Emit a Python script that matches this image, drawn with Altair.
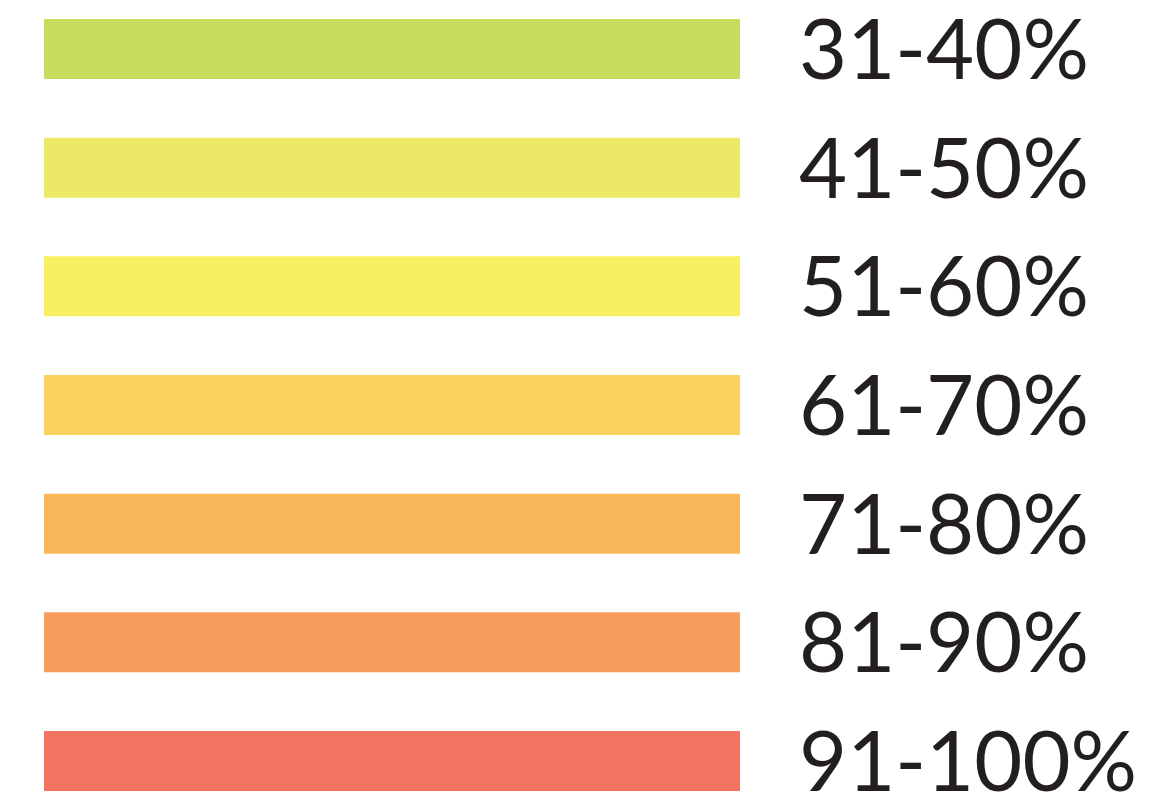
import altair as alt
import pandas as pd

labels = ["31-40%", "41-50%", "51-60%", "61-70%", "71-80%", "81-90%", "91-100%"]
colors = ["#C8DC5F", "#ECE966", "#F7F063", "#FAD260", "#F9B75A", "#F89C5E", "#F2735F"]
swatch = [100, 100, 100, 100, 100, 100, 100]

df = pd.DataFrame({"label": labels, "color": colors, "v": swatch})

x = alt.X("v:Q", axis=None, scale=alt.Scale(domain=[0, 100], range=[36, 732]))
y = alt.Y("label:N", sort=labels, axis=None,
          scale=alt.Scale(range=[11, 783], paddingInner=0.495, paddingOuter=0))

bars = alt.Chart(df).mark_bar(size=60).encode(
    x=x, y=y, color=alt.Color("color:N", scale=None)
)

text = alt.Chart(df).mark_text(
    align="left", baseline="alphabetic", dx=59, dy=30,
    font="Lato", fontSize=83, color="#231F20"
).encode(x=x, y=y, text="label:N")

chart = (bars + text).properties(width=1146, height=783, padding=0, background="white")
chart = chart.configure_view(stroke=None)
chart.save("out.html", embed_options={"renderer": "svg", "actions": False})
